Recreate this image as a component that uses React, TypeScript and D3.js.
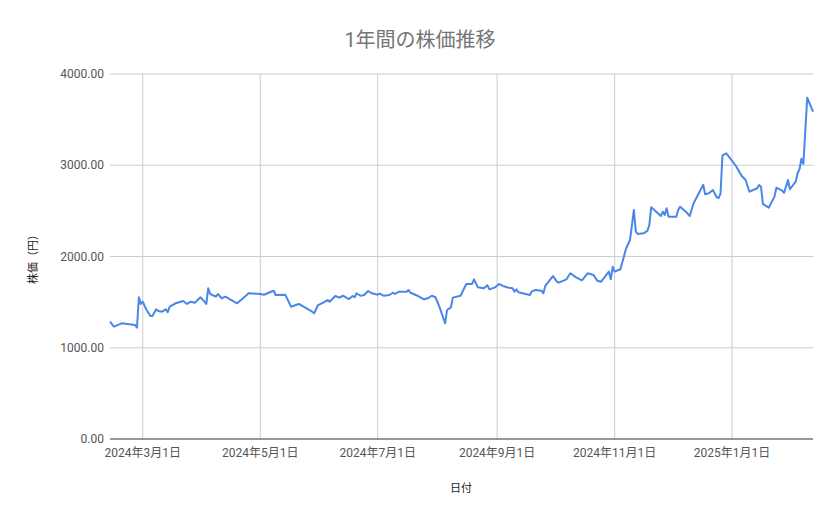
import React, { useEffect, useRef } from 'react';
import * as d3 from 'd3';

const dates: string[] = [
  '2024-02-13', '2024-02-15', '2024-02-19', '2024-02-22', '2024-02-26', '2024-02-27', '2024-02-28', '2024-02-29',
  '2024-03-01', '2024-03-02', '2024-03-03', '2024-03-05', '2024-03-06', '2024-03-08', '2024-03-09', '2024-03-11',
  '2024-03-13', '2024-03-14', '2024-03-15', '2024-03-18', '2024-03-22', '2024-03-24', '2024-03-26', '2024-03-28',
  '2024-03-31', '2024-04-03', '2024-04-04', '2024-04-05', '2024-04-08', '2024-04-09', '2024-04-11', '2024-04-13',
  '2024-04-16', '2024-04-19', '2024-04-21', '2024-04-24', '2024-04-25', '2024-05-01', '2024-05-03', '2024-05-06',
  '2024-05-08', '2024-05-09', '2024-05-14', '2024-05-17', '2024-05-21', '2024-05-28', '2024-05-29', '2024-05-31',
  '2024-06-02', '2024-06-05', '2024-06-06', '2024-06-09', '2024-06-11', '2024-06-13', '2024-06-16', '2024-06-18',
  '2024-06-19', '2024-06-20', '2024-06-22', '2024-06-24', '2024-06-26', '2024-06-28', '2024-07-01', '2024-07-02',
  '2024-07-04', '2024-07-07', '2024-07-09', '2024-07-10', '2024-07-12', '2024-07-16', '2024-07-17', '2024-07-18',
  '2024-07-22', '2024-07-25', '2024-07-27', '2024-07-29', '2024-07-31', '2024-08-02', '2024-08-05', '2024-08-06',
  '2024-08-08', '2024-08-09', '2024-08-13', '2024-08-16', '2024-08-19', '2024-08-20', '2024-08-21', '2024-08-22',
  '2024-08-25', '2024-08-27', '2024-08-28', '2024-08-31', '2024-09-02', '2024-09-04', '2024-09-07', '2024-09-09',
  '2024-09-10', '2024-09-11', '2024-09-12', '2024-09-18', '2024-09-19', '2024-09-21', '2024-09-24', '2024-09-25',
  '2024-09-26', '2024-09-30', '2024-10-02', '2024-10-03', '2024-10-07', '2024-10-09', '2024-10-12', '2024-10-15',
  '2024-10-18', '2024-10-21', '2024-10-23', '2024-10-25', '2024-10-29', '2024-10-30', '2024-10-31', '2024-11-01',
  '2024-11-04', '2024-11-07', '2024-11-09', '2024-11-11', '2024-11-12', '2024-11-13', '2024-11-16', '2024-11-18',
  '2024-11-19', '2024-11-20', '2024-11-25', '2024-11-26', '2024-11-27', '2024-11-28', '2024-11-29', '2024-12-03',
  '2024-12-04', '2024-12-05', '2024-12-08', '2024-12-10', '2024-12-12', '2024-12-15', '2024-12-17', '2024-12-18',
  '2024-12-20', '2024-12-22', '2024-12-24', '2024-12-25', '2024-12-26', '2024-12-27', '2024-12-29', '2025-01-03',
  '2025-01-06', '2025-01-08', '2025-01-10', '2025-01-14', '2025-01-15', '2025-01-16', '2025-01-17', '2025-01-20',
  '2025-01-23', '2025-01-24', '2025-01-27', '2025-01-28', '2025-01-30', '2025-01-31', '2025-02-03', '2025-02-04',
  '2025-02-05', '2025-02-06', '2025-02-07', '2025-02-09', '2025-02-12',
];

const prices: number[] = [
  1286, 1231, 1268, 1260, 1250, 1220, 1553, 1480,
  1505, 1458, 1414, 1348, 1348, 1421, 1403, 1395,
  1421, 1389, 1450, 1487, 1512, 1480, 1505, 1494,
  1553, 1480, 1652, 1589, 1560, 1589, 1542, 1560,
  1523, 1487, 1523, 1578, 1597, 1589, 1581, 1608,
  1625, 1578, 1581, 1450, 1480, 1395, 1377, 1468,
  1487, 1523, 1505, 1567, 1549, 1570, 1534, 1567,
  1553, 1597, 1570, 1578, 1622, 1597, 1581, 1592,
  1570, 1578, 1603, 1589, 1614, 1614, 1633, 1603,
  1567, 1531, 1542, 1570, 1553, 1450, 1268, 1414,
  1443, 1549, 1570, 1699, 1699, 1750, 1706, 1662,
  1651, 1684, 1640, 1662, 1699, 1677, 1658, 1651,
  1614, 1640, 1608, 1578, 1618, 1633, 1625, 1597,
  1677, 1786, 1724, 1713, 1750, 1816, 1772, 1739,
  1816, 1797, 1735, 1724, 1834, 1750, 1888, 1834,
  1860, 2090, 2181, 2510, 2272, 2247, 2254, 2280,
  2345, 2539, 2444, 2491, 2455, 2528, 2436, 2436,
  2510, 2546, 2491, 2444, 2583, 2704, 2787, 2682,
  2693, 2729, 2649, 2641, 2693, 3109, 3131, 2992,
  2882, 2838, 2710, 2748, 2784, 2765, 2576, 2535,
  2656, 2754, 2721, 2699, 2838, 2737, 2820, 2912,
  2956, 3072, 3014, 3740, 3587,
];

const yTicks: number[] = [0, 1000, 2000, 3000, 4000];

const width = 839;
const height = 519;
const margin = { top: 74, right: 26, bottom: 80, left: 110 };
const font = "Roboto, 'Noto Sans CJK JP', sans-serif";

const App = () => {
  const ref = useRef<SVGSVGElement>(null);

  useEffect(() => {
    const svg = d3.select(ref.current);
    svg.selectAll('*').remove();

    const parse = d3.timeParse('%Y-%m-%d');
    const data = dates.map((d, i) => ({ date: parse(d) as Date, value: prices[i] }));

    const x = d3
      .scaleTime()
      .domain(d3.extent(data, (d) => d.date) as [Date, Date])
      .range([margin.left, width - margin.right]);
    const y = d3
      .scaleLinear()
      .domain([0, 4000])
      .range([height - margin.bottom, margin.top]);

    const monthTicks = x.ticks(d3.timeMonth.every(2) as d3.TimeInterval);

    // horizontal grid
    svg
      .append('g')
      .selectAll('line')
      .data(yTicks.filter((t) => t !== 0))
      .join('line')
      .attr('x1', margin.left)
      .attr('x2', width - margin.right)
      .attr('y1', (d) => y(d))
      .attr('y2', (d) => y(d))
      .attr('stroke', '#cccccc')
      .attr('stroke-width', 1);

    // vertical grid
    svg
      .append('g')
      .selectAll('line')
      .data(monthTicks)
      .join('line')
      .attr('x1', (d) => x(d))
      .attr('x2', (d) => x(d))
      .attr('y1', margin.top)
      .attr('y2', height - margin.bottom)
      .attr('stroke', '#cccccc')
      .attr('stroke-width', 1);

    // baseline
    svg
      .append('line')
      .attr('x1', margin.left)
      .attr('x2', width - margin.right)
      .attr('y1', y(0))
      .attr('y2', y(0))
      .attr('stroke', '#333333')
      .attr('stroke-width', 1);

    // y labels
    svg
      .append('g')
      .selectAll('text')
      .data(yTicks)
      .join('text')
      .attr('x', margin.left - 6)
      .attr('y', (d) => y(d))
      .attr('dy', '0.35em')
      .attr('text-anchor', 'end')
      .attr('font-family', font)
      .attr('font-size', 12)
      .attr('fill', '#555555')
      .text((d) => d3.format('.2f')(d));

    // x labels
    svg
      .append('g')
      .selectAll('text')
      .data(monthTicks)
      .join('text')
      .attr('x', (d) => x(d))
      .attr('y', y(0) + 18)
      .attr('text-anchor', 'middle')
      .attr('font-family', font)
      .attr('font-size', 12)
      .attr('fill', '#555555')
      .text((d) => `${d.getFullYear()}年${d.getMonth() + 1}月${d.getDate()}日`);

    // line
    const line = d3
      .line<{ date: Date; value: number }>()
      .x((d) => x(d.date))
      .y((d) => y(d.value));

    svg
      .append('path')
      .datum(data)
      .attr('d', line)
      .attr('fill', 'none')
      .attr('stroke', '#4a86e8')
      .attr('stroke-width', 2)
      .attr('stroke-linejoin', 'round');

    // title
    svg
      .append('text')
      .attr('x', 420)
      .attr('y', 47)
      .attr('text-anchor', 'middle')
      .attr('font-family', font)
      .attr('font-size', 20)
      .attr('fill', '#757575')
      .text('1年間の株価推移');

    // axis titles
    svg
      .append('text')
      .attr('x', 461)
      .attr('y', 492)
      .attr('text-anchor', 'middle')
      .attr('font-family', font)
      .attr('font-size', 11)
      .attr('fill', '#222222')
      .text('日付');

    svg
      .append('text')
      .attr('transform', `translate(37,${(margin.top + height - margin.bottom) / 2}) rotate(-90)`)
      .attr('text-anchor', 'middle')
      .attr('font-family', font)
      .attr('font-size', 11)
      .attr('fill', '#222222')
      .text('株価（円）');
  }, []);

  return (
    <svg
      ref={ref}
      width={width}
      height={height}
      style={{ position: 'absolute', left: 0, top: 0, background: '#ffffff' }}
    />
  );
};

export default App;
